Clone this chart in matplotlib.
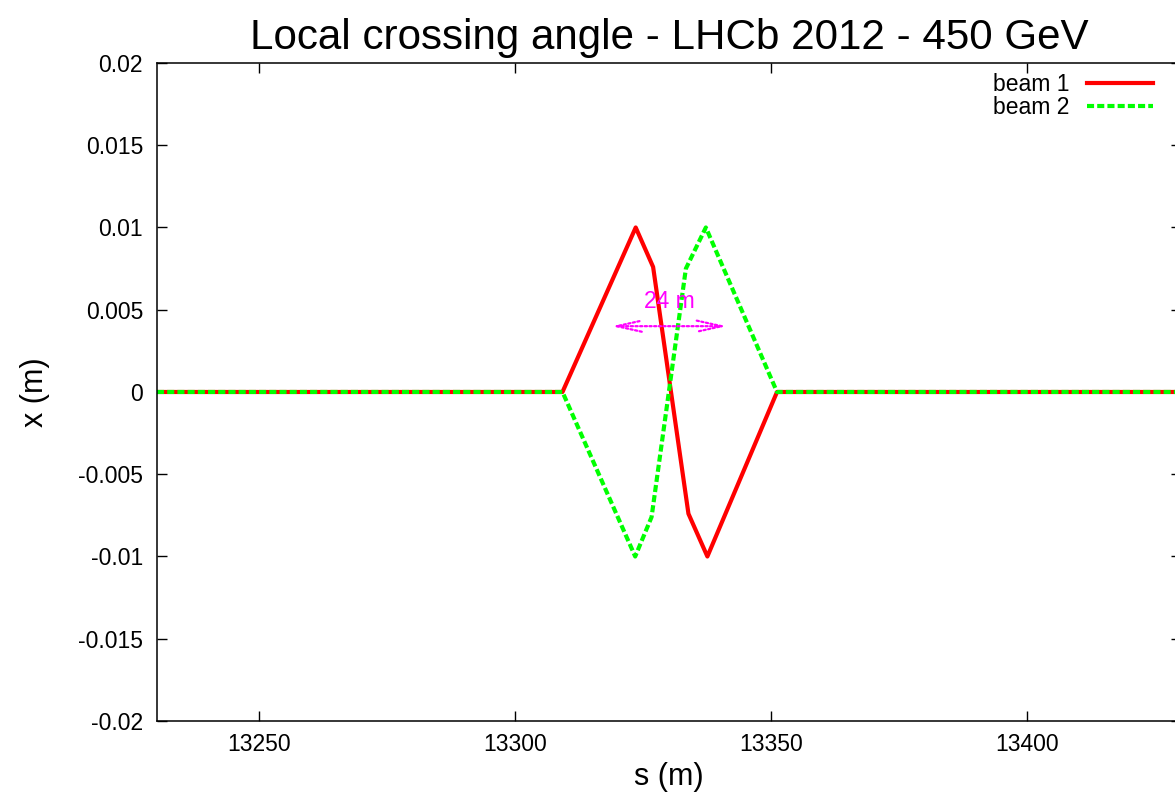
import matplotlib
matplotlib.use("Agg")
import matplotlib.pyplot as plt
from matplotlib.ticker import FormatStrFormatter, MultipleLocator

plt.rcParams['font.family'] = ['Liberation Sans', 'DejaVu Sans']
plt.rcParams['axes.unicode_minus'] = False

# beam orbits (s in m, x in m)
s_beam1 = [13230, 13309.2, 13323.5, 13326.9, 13333.8, 13337.5, 13351.1, 13430]
x_beam1 = [0.0, 0.0, 0.0100, 0.0076, -0.0074, -0.0100, 0.0, 0.0]
s_beam2 = [13230, 13309.2, 13323.4, 13326.6, 13333.3, 13337.2, 13351.1, 13430]
x_beam2 = [0.0, 0.0, -0.0100, -0.0076, 0.0075, 0.0100, 0.0, 0.0]

# separation arrow and its label
arrow_s = (13318.8, 13341.3)
arrow_x = 0.0040
arrow_label = "24 m"
label_pos = (13330.1, 0.0055)

xlim = (13230, 13430)
ylim = (-0.02, 0.02)

fig = plt.figure(figsize=(11.75, 7.93), dpi=100)
ax = fig.add_axes([0.1336, 0.0908, 0.8715, 0.8298])

ax.plot(s_beam1, x_beam1, color='#ff0000', lw=3.0, label='beam 1')
ax.plot(s_beam2, x_beam2, color='#00ff00', lw=3.0, dashes=(1.7, 0.75), label='beam 2')

ax.annotate('', xy=(arrow_s[1], arrow_x), xytext=(arrow_s[0], arrow_x),
            arrowprops=dict(arrowstyle='<->,head_length=18,head_width=4',
                            mutation_scale=1, color='#ff00ff', lw=1.6,
                            linestyle=(0, (1, 1.1)), shrinkA=0, shrinkB=0))
ax.text(label_pos[0], label_pos[1], arrow_label, color='#ff00ff', fontsize=16.5,
        ha='center', va='center')

ax.set_xlim(*xlim)
ax.set_ylim(*ylim)
ax.xaxis.set_major_locator(MultipleLocator(50))
ax.yaxis.set_major_locator(MultipleLocator(0.005))
ax.yaxis.set_major_formatter(FormatStrFormatter('%g'))
ax.tick_params(direction='in', length=7, width=1, top=True, right=True,
               labelsize=16.5, colors='black')
ax.tick_params(axis='y', pad=10)
ax.tick_params(axis='x', pad=9)
for sp in ax.spines.values():
    sp.set_linewidth(1.1)

ax.set_xlabel('s (m)', fontsize=22)
ax.set_ylabel('x (m)', fontsize=22)
ax.xaxis.set_label_coords(0.5, -0.062)
ax.yaxis.set_label_coords(-0.104, 0.5)
ax.set_title('Local crossing angle - LHCb 2012 - 450 GeV', fontsize=30.3, pad=10)

ax.legend(loc='upper right', bbox_to_anchor=(0.9727, 0.9845), frameon=False,
          markerfirst=False, fontsize=16.5, handlelength=2.9, handletextpad=0.75,
          labelspacing=0.0, borderpad=0, borderaxespad=0)

fig.savefig('out.png', dpi=100)
